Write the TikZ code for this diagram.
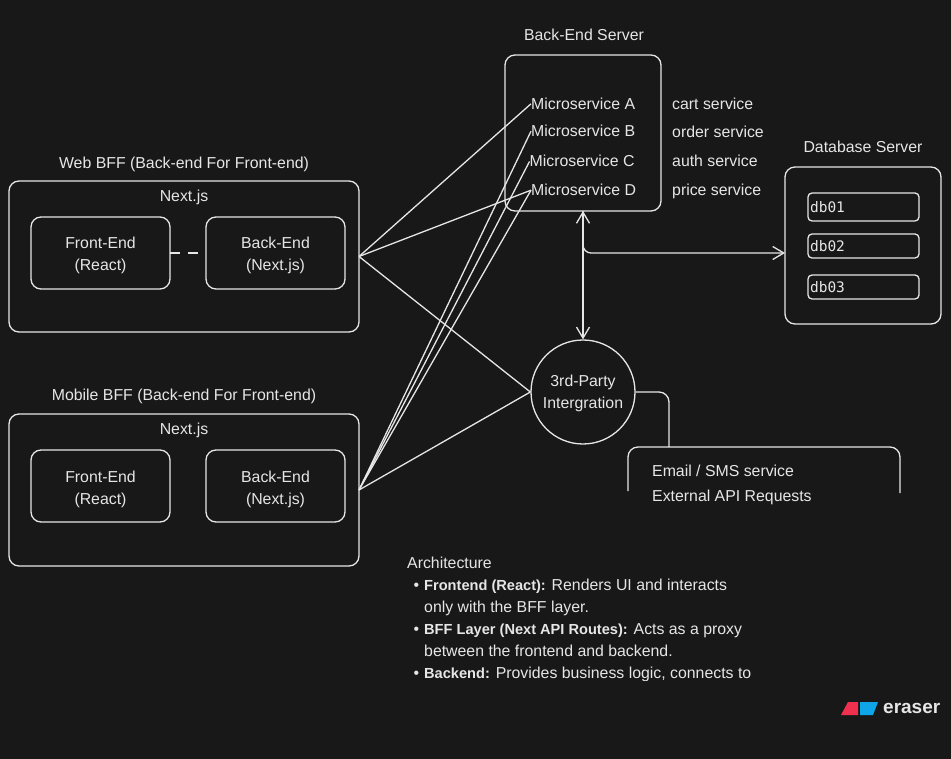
\documentclass[tikz,border=0pt]{standalone}
\usepackage{fontspec}
\setmainfont{Liberation Sans}
\newfontfamily\dbfont{DejaVu Sans Mono}
\usetikzlibrary{positioning, arrows.meta}
\definecolor{canvas}{HTML}{181818}
\definecolor{ink}{HTML}{E6E6E6}
\definecolor{logored}{HTML}{F0304F}
\definecolor{logoblue}{HTML}{0EA5E9}
\newcommand{\leadin}[1]{\rule{0pt}{#1}} % pushes a two line text down in its box
\newcommand{\notehead}[1]{{\bfseries\fontsize{14.6}{22}\selectfont #1}}
\tikzset{
x=1pt, y=-1pt,
every node/.style={text=ink, font=\fontsize{15.85}{22}\selectfont},
link/.style={draw=ink, line width=1.3pt}, % every connector
barb/.style={-{Straight Barb[length=11pt, width=13pt]}},
arrow/.style={link, {Straight Barb[length=11pt, width=13pt]}-{Straight Barb[length=11pt, width=13pt]}},
bigbox/.style={draw=ink, line width=1.3pt, rounded corners=10pt, inner sep=0pt, outer sep=0pt},
innerbox/.style={bigbox, align=center, minimum width=139pt, minimum height=72pt},
dbbox/.style={bigbox, rounded corners=4pt, minimum width=111pt, font=\dbfont\fontsize{14.5}{18}\selectfont},
tag/.style={inner sep=0pt, anchor=west, text height=11pt, text depth=0pt},
}

\begin{document}
\begin{tikzpicture}
    \useasboundingbox (0,0) rectangle (951,759);
    \fill[canvas] (0,0) rectangle (951,759);

    % web bff
    \node[bigbox, minimum width=350pt, minimum height=151pt] (web) at (184,256.5) {};
    \node (webtitle) at (184,164) {Web BFF (Back-end For Front-end)};
    \node (webnext) at (184,197) {Next.js};
    \node[innerbox] (webfront) at (100.5,253) {\leadin{17pt}Front-End\\(React)};
    \node[innerbox, right=36pt of webfront] (webback) {\leadin{17pt}Back-End\\(Next.js)};

    % mobile bff
    \node[bigbox, minimum width=350pt, minimum height=152pt] (mobile) at (184,490) {};
    \node (mobiletitle) at (184,396) {Mobile BFF (Back-end For Front-end)};
    \node (mobilenext) at (184,430) {Next.js};
    \node[innerbox] (mobilefront) at (100.5,486) {\leadin{19pt}Front-End\\(React)};
    \node[innerbox, right=36pt of mobilefront] (mobileback) {\leadin{19pt}Back-End\\(Next.js)};

    % back-end server
    \node[bigbox, minimum width=156pt, minimum height=156pt] (server) at (583,133) {};
    \node (servertitle) at (584,35) {Back-End Server};
    \node[tag] (msa) at (531,103.8) {Microservice A};
    \node[tag] (msb) at (531,131.2) {Microservice B};
    \node[tag] (msc) at (529.5,161.5) {Microservice C};
    \node[tag] (msd) at (531,190.2) {Microservice D};
    \node[tag] (cart) at (672,104.5) {cart service};
    \node[tag] (order) at (672,132.2) {order service};
    \node[tag] (auth) at (672,161.5) {auth service};
    \node[tag] (price) at (672,190.5) {price service};

    % database server
    \node[bigbox, minimum width=156pt, minimum height=157pt] (db) at (863,245.5) {};
    \node (dbtitle) at (863,147) {Database Server};
    \node[dbbox, minimum height=28pt] (dba) at (863.5,207) {\hspace*{-72pt}db01};
    \node[dbbox, minimum height=24pt] (dbb) at (863.5,246) {\hspace*{-72pt}db02};
    \node[dbbox, minimum height=24pt] (dbc) at (863.5,287) {\hspace*{-72pt}db03};
    \coordinate (dbin) at (785,253);

    % third party
    \node[circle, draw=ink, line width=1.3pt, minimum size=104pt, inner sep=0pt, align=center] (party) at (583,392) {\leadin{15pt}3rd-Party\\Intergration};
    \coordinate (mailtop) at (669,447);
    \draw[link, rounded corners=10pt] (628,491) -- (628,447) -- (900,447) -- (900,493);
    \node[tag] (maila) at (652,471.2) {Email / SMS service};
    \node[tag] (mailb) at (652,496.2) {External API Requests};

    % notes
    \begin{scope}
    \clip (400,550) rectangle (800,680.5);
    \node[inner sep=0pt, anchor=north west, align=left] (notes) at (407,557) {Architecture\\
    \hspace*{17pt}\llap{\textbullet\hspace{5pt}}\notehead{Frontend (React):} Renders UI and interacts\\
    \hspace*{17pt}only with the BFF layer.\\
    \hspace*{17pt}\llap{\textbullet\hspace{5pt}}\notehead{BFF Layer (Next API Routes):} Acts as a proxy\\
    \hspace*{17pt}between the frontend and backend.\\
    \hspace*{17pt}\llap{\textbullet\hspace{5pt}}\notehead{Backend:} Provides business logic, connects to};
    \end{scope}

    % logo
    \fill[logored] (841,715) -- (848,702) -- (858,702) -- (858,715) -- cycle;
    \fill[logoblue] (860,702) -- (878,702) -- (873,715) -- (860,715) -- cycle;
    \node[tag, font=\bfseries\fontsize{19}{22}\selectfont] (eraser) at (883,708) {eraser};

    % connectors
    \draw[link, dash pattern=on 10pt off 8pt] (webfront) -- (webback);
    \draw[link] (web.east) -- (msa.west);
    \draw[link] (web.east) -- (msd.west);
    \draw[link] (web.east) -- (party.west);
    \draw[link] (mobile.east) -- (msb.west);
    \draw[link] (mobile.east) -- (msc.west);
    \draw[link] (mobile.east) -- (msd.west);
    \draw[link] (mobile.east) -- (party.west);
    \draw[arrow] (server.south) -- (party.north);
    \draw[link, barb, rounded corners=8pt] (server.south) |- (dbin);
    \draw[link, rounded corners=10pt] (party.east) -| (mailtop);
\end{tikzpicture}
\end{document}
